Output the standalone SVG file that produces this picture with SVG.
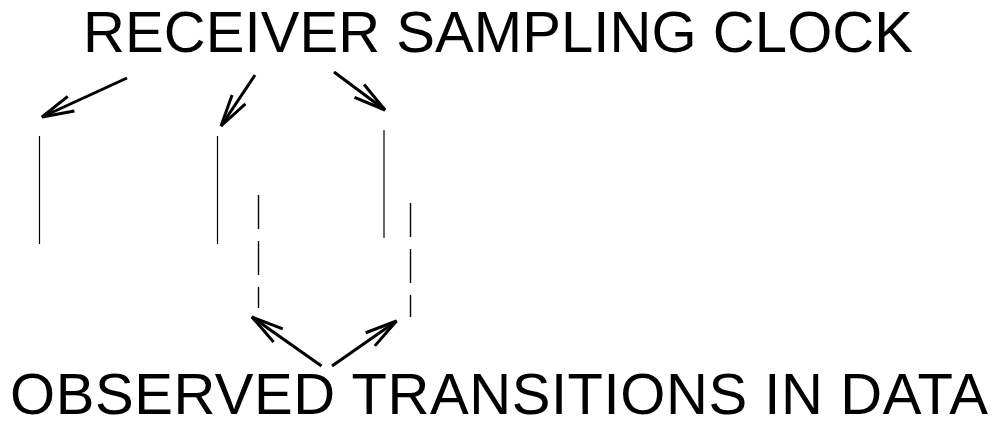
<svg xmlns="http://www.w3.org/2000/svg" width="996" height="426" viewBox="0 0 996 426">
<style>
.lbl{font-family:"Liberation Sans",Arial,sans-serif;font-size:58px;fill:#000}
.arr{stroke:#000;stroke-width:3;fill:none;marker-end:url(#head)}
.clk{stroke:#000;stroke-width:1.2;fill:none}
.dat{stroke:#000;stroke-width:1.4;fill:none;stroke-dasharray:34 12}
</style>
<defs>
<marker id="head" markerUnits="userSpaceOnUse" viewBox="-40 -12 44 24" refX="0" refY="0" markerWidth="44" markerHeight="24" orient="auto" overflow="visible">
<path d="M-32,-8 L0,0 L-32,8" stroke="#000" stroke-width="3" fill="none"/>
</marker>
</defs>
<g id="label-clock"><text class="lbl" x="83" y="52" textLength="830">RECEIVER SAMPLING CLOCK</text></g>
<g id="label-data"><text class="lbl" x="10" y="414" font-size="57" textLength="978">OBSERVED TRANSITIONS IN DATA</text></g>
<g id="clock-edges">
<line class="clk" x1="39.5" y1="136" x2="39.5" y2="244"/>
<line class="clk" x1="217.5" y1="136" x2="217.5" y2="244"/>
<line class="clk" x1="384" y1="130" x2="384" y2="238"/>
</g>
<g id="data-transitions">
<line class="dat" x1="258.5" y1="195" x2="258.5" y2="308"/>
<line class="dat" x1="410.5" y1="203" x2="410.5" y2="317"/>
</g>
<g id="connectors">
<line class="arr" x1="127" y1="78" x2="42" y2="117"/>
<line class="arr" x1="255" y1="75" x2="221" y2="126"/>
<line class="arr" x1="334" y1="72" x2="385" y2="110"/>
<line class="arr" x1="321.5" y1="366" x2="252" y2="317"/>
<line class="arr" x1="332" y1="366" x2="396.5" y2="321"/>
</g>
</svg>
